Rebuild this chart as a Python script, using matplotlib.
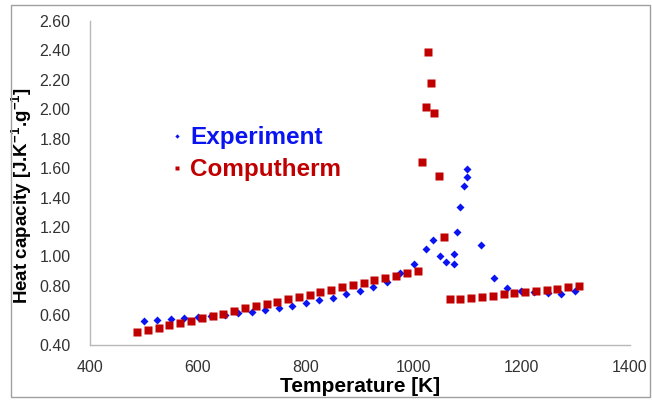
import matplotlib.pyplot as plt
from matplotlib.patches import Rectangle

plt.rcParams['font.family'] = ['Liberation Sans', 'DejaVu Sans']
plt.rcParams['mathtext.fontset'] = 'custom'
plt.rcParams['mathtext.bf'] = 'Liberation Sans:bold'
plt.rcParams['mathtext.rm'] = 'Liberation Sans'

# Experiment (blue diamonds)
exp_T = [500, 525, 550, 575, 600, 625, 650, 675, 700, 725, 750, 775, 800, 825, 850,
         875, 900, 925, 950, 975, 1000, 1023, 1036, 1048, 1060, 1074, 1074, 1079,
         1085, 1092, 1099, 1099, 1124, 1149, 1173, 1198, 1223, 1249, 1273, 1298]
exp_cp = [0.561, 0.568, 0.575, 0.583, 0.590, 0.598, 0.606, 0.615, 0.626, 0.640,
          0.651, 0.667, 0.685, 0.703, 0.721, 0.746, 0.769, 0.796, 0.830, 0.887,
          0.950, 1.052, 1.110, 1.004, 0.961, 0.948, 1.018, 1.165, 1.337, 1.481,
          1.543, 1.593, 1.077, 0.857, 0.785, 0.769, 0.760, 0.753, 0.746, 0.766]

# Computherm (red squares)
cal_T = [487, 507, 527, 547, 567, 587, 607, 627, 647, 667, 687, 707, 727, 747, 767,
         787, 807, 827, 847, 867, 887, 907, 927, 947, 967, 987, 1007,
         1015, 1022, 1027, 1032, 1037, 1047, 1056,
         1066, 1086, 1106, 1126, 1146, 1166, 1186, 1206, 1226, 1246, 1266, 1286, 1306]
cal_cp = [0.484, 0.500, 0.517, 0.534, 0.549, 0.565, 0.583, 0.597, 0.612, 0.629,
          0.647, 0.663, 0.678, 0.694, 0.710, 0.726, 0.741, 0.758, 0.775, 0.792,
          0.807, 0.821, 0.839, 0.855, 0.870, 0.887, 0.904,
          1.644, 2.018, 2.389, 2.180, 1.973, 1.549, 1.131,
          0.710, 0.712, 0.719, 0.728, 0.735, 0.744, 0.753, 0.760, 0.769, 0.775,
          0.782, 0.792, 0.800]

fig = plt.figure(figsize=(6.52, 4.01), dpi=100)
ax = fig.add_axes([0.138, 0.14, 0.828, 0.808])

ax.plot(exp_T, exp_cp, 'D', color='#0a14f0', markersize=4, mec='none', label='Experiment')
ax.plot(cal_T, cal_cp, 's', color='#c00000', markersize=5.2, mec='none', label='Computherm')

ax.set_xlim(400, 1400)
ax.set_ylim(0.4, 2.6)
ax.set_xticks([400, 600, 800, 1000, 1200, 1400])
ax.set_yticks([0.4 + 0.2 * i for i in range(12)])
ax.set_yticklabels(['%.2f' % (0.4 + 0.2 * i) for i in range(12)])
ax.tick_params(length=0, labelsize=11.5, colors='#333333')
ax.tick_params(axis='y', pad=14)
ax.tick_params(axis='x', pad=11)

for s in ['top', 'right']:
    ax.spines[s].set_visible(False)
for s in ['left', 'bottom']:
    ax.spines[s].set_color('#b8b8b8')
    ax.spines[s].set_linewidth(1)

ax.set_xlabel('Temperature [K]', fontsize=15, fontweight='bold', labelpad=1)
ax.set_ylabel(r'Heat capacity [J.K$^{\mathbf{-1}}$.g$^{\mathbf{-1}}$]', fontsize=13.5,
              fontweight='bold')
ax.yaxis.set_label_coords(-0.103, 0.46)

leg = ax.legend(loc='upper left', bbox_to_anchor=(0.15, 0.675), frameon=False,
                borderaxespad=0, borderpad=0,
                markerscale=0.55, handlelength=0.5, handletextpad=0.3,
                labelspacing=0.38, labelcolor='linecolor',
                prop={'weight': 'bold', 'size': 17.5})

fig.patches.append(Rectangle((11 / 652, 4 / 401), 639 / 652, 392 / 401,
                             transform=fig.transFigure, fill=False,
                             edgecolor='#a0a0a0', linewidth=1))

fig.savefig('out.png', dpi=100)
